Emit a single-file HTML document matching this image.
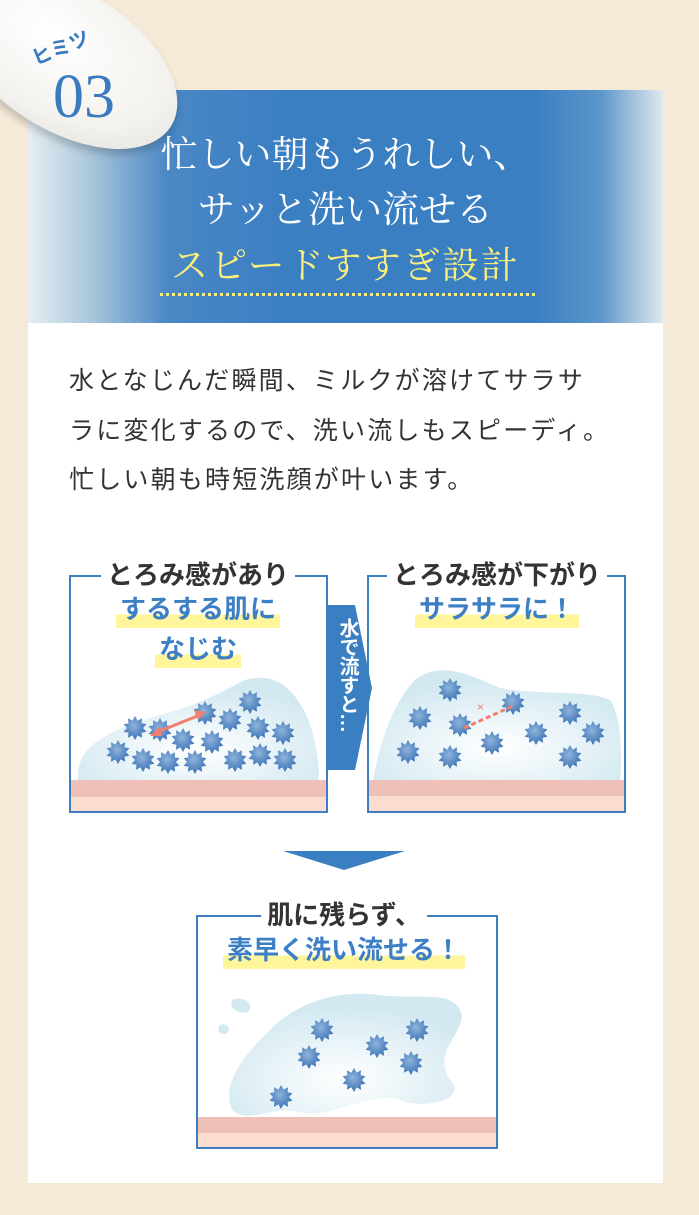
<!DOCTYPE html>
<html><head><meta charset="utf-8"><style>
*{margin:0;padding:0;box-sizing:border-box}
body{width:699px;height:1215px;background:#f5ead8;position:relative;overflow:hidden;font-family:"Liberation Sans","Noto Sans CJK JP",sans-serif}
.abs{position:absolute}
.card{left:28px;top:90px;width:635px;height:1093px;background:#fff}
.head{left:28px;top:90px;width:635px;height:233px;background:linear-gradient(90deg,#e6eef0 0%,#a9c6dc 10%,#4a87c4 22%,#3b7fc3 40%,#3b7fc3 80%,#5b95c9 90%,#dfe9ee 100%)}
.ht{left:28px;width:635px;text-align:center;font-family:"Noto Serif CJK SC","Liberation Serif",serif;font-size:37px;color:#fff;line-height:1;white-space:nowrap}
.body{left:69px;font-size:25px;color:#333;line-height:1;letter-spacing:2.2px;white-space:nowrap}
.box{border:2px solid #3d7dc0;background:#fff}
.tt{font-weight:bold;font-size:26px;color:#333;background:#fff;padding:0 6px;line-height:1;white-space:nowrap}
.bl{font-weight:bold;font-size:26px;color:#3d7fc4;line-height:1;white-space:nowrap;background:linear-gradient(transparent 60%,#fff59a 60%);padding:0 4px 4px}
</style></head><body>
<div class="abs card"></div>
<div class="abs head"></div>
<div class="abs ht" style="top:133px">忙しい朝もうれしい、</div>
<div class="abs ht" style="top:188px">サッと洗い流せる</div>
<div class="abs ht" style="top:244px;color:#fbef7c;letter-spacing:2px">スピードすすぎ設計</div>
<div class="abs" style="left:160px;top:293px;width:375px;border-top:3px dotted #fbef7c"></div>
<!-- badge -->
<div class="abs" style="left:-60px;top:-10px;width:250px;height:140px;border-radius:50%;background:radial-gradient(ellipse at 40% 40%,#ffffff 0%,#f3f2ee 60%,#dcdcd8 100%);box-shadow:2px 5px 8px rgba(0,0,0,.2);transform:rotate(32deg)"></div>
<div class="abs" style="left:30px;top:32px;font-size:20px;color:#3a7bc0;font-weight:bold;transform:rotate(-22deg)">ヒミツ</div>
<div class="abs" style="left:53px;top:66px;font-family:'Liberation Serif',serif;font-size:62px;color:#3a7bc0;line-height:1">03</div>
<!-- body -->
<div class="abs body" style="top:369px">水となじんだ瞬間、ミルクが溶けてサラサ</div>
<div class="abs body" style="top:419px">ラに変化するので、洗い流しもスピーディ。</div>
<div class="abs body" style="top:468px">忙しい朝も時短洗顔が叶います。</div>
<!-- boxes -->
<div class="abs box" style="left:69px;top:575px;width:259px;height:238px"></div>
<div class="abs box" style="left:367px;top:575px;width:259px;height:238px"></div>
<div class="abs box" style="left:196px;top:915px;width:302px;height:234px"></div>
<svg class="abs" style="left:0;top:0" width="699" height="1215">
<defs>
<radialGradient id="sg" cx="45%" cy="40%" r="60%"><stop offset="0" stop-color="#8fb4dc"/><stop offset="1" stop-color="#3a72b4"/></radialGradient>
<radialGradient id="bg" cx="50%" cy="70%" r="60%"><stop offset="0" stop-color="#ffffff"/><stop offset="1" stop-color="#d3e9f1"/></radialGradient>
<polygon id="st" fill="url(#sg)" points="0,-12 2.6,-7.4 7,-9.7 6.6,-4.7 11.4,-3.7 8,0 11.4,3.7 6.6,4.7 7,9.7 2.6,7.4 0,12 -2.6,7.4 -7,9.7 -6.6,4.7 -11.4,3.7 -8,0 -11.4,-3.7 -6.6,-4.7 -7,-9.7 -2.6,-7.4"/>
</defs>
<path d="M78,780 C75,745 110,730 160,715 C200,705 225,690 245,680 C280,670 300,695 312,730 C318,755 320,770 318,780 Z" fill="url(#bg)"/>
<path d="M373,780 C380,740 395,700 415,680 C440,660 470,675 500,688 C540,695 590,690 610,700 C622,715 622,760 620,780 Z" fill="url(#bg)"/>
<path d="M232,1110 C220,1080 250,1050 270,1030 C300,1000 340,990 380,995 C420,1000 450,990 460,1010 C470,1030 430,1050 450,1080 C470,1100 420,1110 400,1100 C370,1090 330,1120 300,1112 C270,1105 250,1125 232,1110 Z" fill="url(#bg)"/>
<path d="M232,1000 C245,995 255,1005 248,1012 C240,1015 228,1008 232,1000Z" fill="#d3e9f1"/>
<path d="M220,1025 C228,1022 232,1030 226,1034 C220,1035 216,1030 220,1025Z" fill="#d3e9f1"/>
<rect x="71" y="780" width="255" height="17" fill="#efc0b8"/><rect x="71" y="797" width="255" height="14" fill="#fbdcd0"/>
<rect x="369" y="780" width="255" height="16" fill="#efc0b8"/><rect x="369" y="796" width="255" height="15" fill="#fbdcd0"/>
<rect x="198" y="1117" width="298" height="16" fill="#efc0b8"/><rect x="198" y="1133" width="298" height="14" fill="#fbdcd0"/>
<g>
<use href="#st" x="135" y="728"/><use href="#st" x="160" y="730"/><use href="#st" x="183" y="740"/><use href="#st" x="205" y="713"/><use href="#st" x="230" y="720"/><use href="#st" x="250" y="702"/><use href="#st" x="258" y="728"/><use href="#st" x="283" y="733"/><use href="#st" x="118" y="752"/><use href="#st" x="143" y="760"/><use href="#st" x="168" y="762"/><use href="#st" x="195" y="762"/><use href="#st" x="212" y="742"/><use href="#st" x="235" y="760"/><use href="#st" x="260" y="755"/><use href="#st" x="285" y="760"/>
<use href="#st" x="450" y="690"/><use href="#st" x="420" y="718"/><use href="#st" x="460" y="725"/><use href="#st" x="513" y="703"/><use href="#st" x="570" y="713"/><use href="#st" x="593" y="733"/><use href="#st" x="408" y="752"/><use href="#st" x="450" y="757"/><use href="#st" x="492" y="743"/><use href="#st" x="536" y="733"/><use href="#st" x="570" y="757"/>
<use href="#st" x="322" y="1030"/><use href="#st" x="417" y="1030"/><use href="#st" x="309" y="1057"/><use href="#st" x="377" y="1046"/><use href="#st" x="411" y="1063"/><use href="#st" x="354" y="1080"/><use href="#st" x="281" y="1097"/>
</g>
<line x1="155" y1="733" x2="200" y2="715" stroke="#f07f6e" stroke-width="3"/>
<polygon points="150,736 160,726 162,736" fill="#f07f6e"/><polygon points="206,712 194,710 198,720" fill="#f07f6e"/>
<line x1="464" y1="728" x2="513" y2="706" stroke="#f07f6e" stroke-width="3" stroke-dasharray="5,3"/>
<text x="477" y="711" font-size="12" fill="#f07f6e" font-family="Liberation Sans">×</text>
<polygon points="327,605 355,605 372,688 355,770 327,770" fill="#3b7fc3"/>
<polygon points="283,851 405,851 344,870" fill="#3b7fc3"/>
</svg>
<div class="abs" style="left:332px;top:618px;width:30px;color:#fff;font-size:20px;writing-mode:vertical-rl;line-height:30px;font-weight:bold;letter-spacing:-1px">水で流すと…</div>
<div class="abs tt" style="left:198px;top:562px;transform:translateX(-50%)">とろみ感があり</div>
<div class="abs" style="left:198px;top:596px;transform:translateX(-50%)"><span class="bl">するする肌に</span></div>
<div class="abs" style="left:198px;top:636px;transform:translateX(-50%)"><span class="bl">なじむ</span></div>
<div class="abs tt" style="left:497px;top:562px;transform:translateX(-50%)">とろみ感が下がり</div>
<div class="abs" style="left:497px;top:596px;transform:translateX(-50%)"><span class="bl">サラサラに！</span></div>
<div class="abs tt" style="left:344px;top:902px;transform:translateX(-50%)">肌に残らず、</div>
<div class="abs" style="left:344px;top:937px;transform:translateX(-50%)"><span class="bl">素早く洗い流せる！</span></div>
</body></html>
